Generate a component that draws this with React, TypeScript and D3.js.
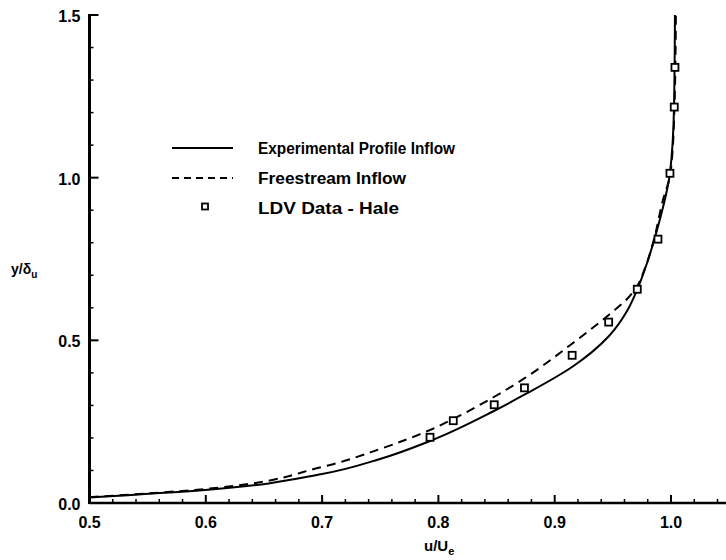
import React from "react";
import * as d3 from "d3";

const solidX = [0.5, 0.5993, 0.6999, 0.7498, 0.7928, 0.8477, 0.8735, 0.9149, 0.9467, 0.9622, 0.9708, 0.9794, 0.988, 0.9991, 1.0026, 1.0034];
const solidY = [0.017, 0.04, 0.0891, 0.1353, 0.1906, 0.2828, 0.332, 0.4181, 0.5134, 0.5902, 0.6548, 0.7378, 0.8392, 1.0145, 1.2174, 1.5];

const dashX = [0.5, 0.5993, 0.6999, 0.7498, 0.7928, 0.8126, 0.8477, 0.8735, 0.9149, 0.9467, 0.9622, 0.9708, 0.9777, 0.9845, 0.9931, 0.9996, 1.003, 1.0042];
const dashY = [0.018, 0.043, 0.1107, 0.166, 0.2244, 0.2582, 0.3258, 0.3821, 0.4897, 0.5789, 0.627, 0.666, 0.7224, 0.799, 0.9315, 1.0145, 1.2174, 1.5];

const ldvX = [0.7928, 0.8128, 0.848, 0.874, 0.915, 0.9464, 0.971, 0.9888, 0.9991, 1.0028, 1.0034];
const ldvY = [0.202, 0.253, 0.302, 0.354, 0.454, 0.556, 0.657, 0.811, 1.0135, 1.217, 1.339];

const xMajor = [0.5, 0.6, 0.7, 0.8, 0.9, 1.0];
const yMajor = [0.0, 0.5, 1.0, 1.5];
const legendLabels = ["Experimental Profile Inflow", "Freestream Inflow", "LDV Data - Hale"];

export default function App() {
  const x = d3.scaleLinear().domain([0.5, 1.0]).range([89.5, 671]);
  const y = d3.scaleLinear().domain([0, 1.5]).range([503, 15]);
  const xEnd = 1.05;
  const xMinor = d3.range(0, 28).map((i) => 0.5 + i * 0.02).filter((v) => v <= xEnd);
  const yMinor = d3.range(0, 16).map((i) => i * 0.1);

  const line = d3
    .line<[number, number]>()
    .x((d) => x(d[0]))
    .y((d) => y(d[1]))
    .curve(d3.curveMonotoneY);

  const solid = line(solidX.map((v, i) => [v, solidY[i]] as [number, number])) || "";
  const dashed = line(dashX.map((v, i) => [v, dashY[i]] as [number, number])) || "";

  const font = "'Liberation Sans', Arial, Helvetica, sans-serif";
  const isMajor = (v: number, step: number) => Math.abs(v / step - Math.round(v / step)) < 1e-6;

  return (
    <div style={{ position: "absolute", left: 0, top: 0 }}>
      <svg width={726} height={560} style={{ display: "block", background: "#fff" }} fontFamily={font}>
        {/* axes */}
        <line x1={x(0.5)} y1={y(0)} x2={x(xEnd)} y2={y(0)} stroke="#000" strokeWidth={2.5} />
        <line x1={x(0.5)} y1={y(0) + 1} x2={x(0.5)} y2={y(1.5) - 1} stroke="#000" strokeWidth={3} />
        {xMinor.map((v, i) => {
          const maj = isMajor(v, 0.1);
          return (
            <line key={"xt" + i} x1={x(v)} x2={x(v)} y1={y(0)} y2={y(0) - (maj ? 8 : 4)} stroke="#000" strokeWidth={maj ? 2 : 1.5} />
          );
        })}
        {yMinor.map((v, i) => {
          const maj = isMajor(v, 0.5);
          return (
            <line key={"yt" + i} x1={x(0.5)} x2={x(0.5) + (maj ? 9 : 4)} y1={y(v)} y2={y(v)} stroke="#000" strokeWidth={maj ? 2 : 1.5} />
          );
        })}
        {xMajor.map((v) => (
          <text key={"xl" + v} x={x(v)} y={y(0) + 25} textAnchor="middle" fontSize={16} fontWeight="bold">
            {v.toFixed(1)}
          </text>
        ))}
        {yMajor.map((v) => (
          <text key={"yl" + v} x={x(0.5) - 9} y={y(v) + 7} textAnchor="end" fontSize={16} fontWeight="bold">
            {v.toFixed(1)}
          </text>
        ))}
        {/* axis titles */}
        <text x={424} y={551} fontSize={15} fontWeight="bold">
          u/U<tspan fontSize={11} dy={4}>e</tspan>
        </text>
        <text x={11} y={274} fontSize={14} fontWeight="bold">
          y/δ<tspan fontSize={10} dy={4}>u</tspan>
        </text>

        {/* curves */}
        <path d={solid} fill="none" stroke="#000" strokeWidth={2} />
        <path d={dashed} fill="none" stroke="#000" strokeWidth={2} strokeDasharray="9,6" />
        {ldvX.map((v, i) => (
          <rect key={"p" + i} x={x(v) - 3.5} y={y(ldvY[i]) - 3.5} width={7} height={7} fill="#fff" stroke="#000" strokeWidth={1.8} />
        ))}

        {/* legend */}
        <line x1={172} x2={233} y1={148} y2={148} stroke="#000" strokeWidth={2} />
        <line x1={172} x2={233} y1={178} y2={178} stroke="#000" strokeWidth={2} strokeDasharray="7,5" />
        <rect x={202} y={203.5} width={6} height={6} fill="#fff" stroke="#000" strokeWidth={1.8} />
        {legendLabels.map((t, i) => (
          <text key={t} x={258} y={154 + i * 30} fontSize={16} fontWeight="bold" textLength={[197, 148, 141][i]} lengthAdjust="spacingAndGlyphs">
            {t}
          </text>
        ))}
      </svg>
    </div>
  );
}
